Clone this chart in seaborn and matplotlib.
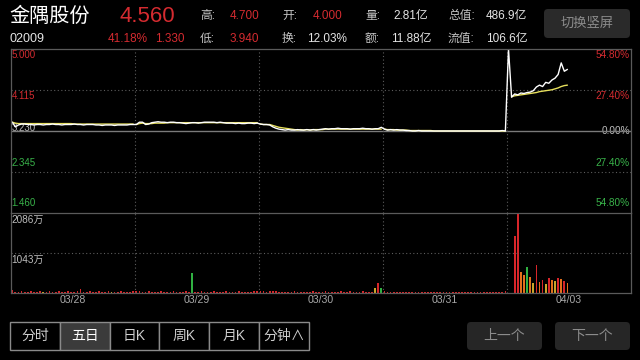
import numpy as np
import pandas as pd
import matplotlib
matplotlib.use("Agg")
import matplotlib.pyplot as plt
from matplotlib.patches import FancyBboxPatch, Rectangle
import seaborn as sns

# ---------------- data ----------------
days = ["03/28", "03/29", "03/30", "03/31", "04/03"]
points_per_day = 40
prev_close = 3.230
price_top = 5.000
price_bottom = 1.460
vol_top = 2086  # 万

left_price_labels = ["5.000", "4.115", "3.230", "2.345", "1.460"]
right_pct_labels = ["54.80%", "27.40%", "0.00%", "27.40%", "54.80%"]
vol_labels = ["2086万", "1043万"]

price_d1 = [3.42, 3.32, 3.36, 3.38, 3.38, 3.37, 3.37, 3.36, 3.37, 3.37,
            3.36, 3.37, 3.37, 3.38, 3.37, 3.37, 3.36, 3.37, 3.37, 3.37,
            3.38, 3.37, 3.37, 3.36, 3.37, 3.37, 3.37, 3.36, 3.36, 3.35,
            3.36, 3.36, 3.36, 3.35, 3.36, 3.36, 3.36, 3.36, 3.37, 3.37]
price_d2 = [3.37, 3.42, 3.42, 3.37, 3.38, 3.41, 3.42, 3.43, 3.42, 3.42,
            3.41, 3.42, 3.42, 3.41, 3.41, 3.40, 3.39, 3.40, 3.41, 3.41,
            3.40, 3.41, 3.42, 3.42, 3.42, 3.42, 3.41, 3.42, 3.41, 3.40,
            3.40, 3.40, 3.39, 3.40, 3.39, 3.39, 3.40, 3.40, 3.39, 3.40]
price_d3 = [3.38, 3.37, 3.37, 3.36, 3.32, 3.29, 3.27, 3.26, 3.25, 3.26,
            3.25, 3.25, 3.26, 3.25, 3.25, 3.26, 3.25, 3.26, 3.25, 3.26,
            3.27, 3.28, 3.27, 3.28, 3.28, 3.29, 3.28, 3.28, 3.28, 3.27,
            3.28, 3.28, 3.28, 3.29, 3.28, 3.28, 3.27, 3.28, 3.28, 3.31]
price_d4 = [3.27, 3.25, 3.26, 3.25, 3.26, 3.25, 3.25, 3.24, 3.24, 3.23,
            3.23, 3.24, 3.23, 3.23, 3.23, 3.23, 3.23, 3.23, 3.23, 3.23,
            3.23, 3.23, 3.23, 3.23, 3.23, 3.23, 3.23, 3.23, 3.23, 3.23,
            3.23, 3.23, 3.23, 3.23, 3.23, 3.23, 3.23, 3.23, 3.24, 3.23]
price_d5 = [5.00, 3.96, 4.03, 4.01, 4.05, 4.04, 4.06, 4.07, 4.10, 4.18,
            4.22, 4.19, 4.28, 4.26, 4.33, 4.37, 4.45, 4.70, 4.52, 4.56]

avg_d1 = [3.42, 3.40, 3.39, 3.39, 3.39, 3.39, 3.39, 3.39, 3.39, 3.39,
          3.39, 3.39, 3.39, 3.39, 3.39, 3.39, 3.39, 3.39, 3.39, 3.39,
          3.38, 3.38, 3.38, 3.38, 3.38, 3.38, 3.38, 3.38, 3.38, 3.38,
          3.38, 3.38, 3.38, 3.38, 3.38, 3.38, 3.38, 3.38, 3.38, 3.38]
avg_d2 = [3.37, 3.39, 3.40, 3.39, 3.39, 3.39, 3.40, 3.40, 3.40, 3.40,
          3.41, 3.41, 3.41, 3.41, 3.41, 3.41, 3.41, 3.41, 3.41, 3.41,
          3.41, 3.41, 3.41, 3.41, 3.41, 3.41, 3.41, 3.41, 3.41, 3.41,
          3.41, 3.41, 3.41, 3.41, 3.41, 3.41, 3.41, 3.41, 3.41, 3.41]
avg_d3 = [3.38, 3.37, 3.37, 3.37, 3.35, 3.33, 3.31, 3.30, 3.29, 3.28,
          3.27, 3.26, 3.25, 3.26, 3.25, 3.26, 3.25, 3.26, 3.26, 3.26,
          3.26, 3.27, 3.27, 3.27, 3.27, 3.27, 3.27, 3.27, 3.27, 3.27,
          3.27, 3.27, 3.27, 3.27, 3.27, 3.27, 3.27, 3.27, 3.27, 3.27]
avg_d4 = [3.27, 3.26, 3.26, 3.26, 3.25, 3.25, 3.25, 3.25, 3.24, 3.24,
          3.24, 3.24, 3.24, 3.24, 3.24, 3.24, 3.23, 3.23, 3.23, 3.23,
          3.23, 3.23, 3.23, 3.23, 3.23, 3.23, 3.23, 3.23, 3.23, 3.23,
          3.23, 3.23, 3.23, 3.23, 3.23, 3.23, 3.23, 3.23, 3.23, 3.23]
avg_d5 = [np.nan, 3.97, 3.99, 4.00, 4.01, 4.02, 4.03, 4.04, 4.05, 4.06,
          4.08, 4.09, 4.10, 4.11, 4.12, 4.14, 4.16, 4.19, 4.21, 4.22]

vol_d1 = [70, 35, 30, 40, 35, 30, 45, 30, 35, 40, 30, 35, 40, 30, 35, 45, 30, 35, 40, 30,
          35, 40, 110, 35, 30, 40, 35, 30, 45, 35, 30, 40, 35, 30, 35, 40, 30, 35, 30, 50]
vol_d2 = [60, 40, 35, 30, 40, 35, 30, 35, 40, 30, 35, 30, 40, 35, 30, 35, 40, 30, 520, 35,
          30, 40, 35, 30, 35, 40, 30, 35, 30, 40, 35, 30, 35, 40, 30, 35, 30, 35, 40, 45]
vol_d3 = [60, 40, 35, 40, 50, 45, 35, 30, 35, 30, 35, 40, 30, 35, 30, 35, 30, 40, 35, 30,
          35, 40, 30, 35, 30, 35, 40, 30, 35, 40, 30, 35, 30, 40, 35, 30, 35, 140, 260, 130]
vol_d4 = [40, 35, 30, 35, 30, 35, 30, 25, 30, 35, 30, 25, 30, 30, 25, 30, 35, 30, 25, 30,
          30, 35, 30, 25, 30, 35, 30, 30, 25, 30, 30, 35, 30, 25, 30, 30, 35, 30, 30, 40]
vol_d5 = [0, 0, 1486, 2060, 540, 460, 690, 420, 260, 730,
          290, 340, 230, 400, 340, 300, 400, 360, 320, 260]

# bar colour codes: r = up (red), g = down (green), o / y = mixed tones
dir_d1 = "rrrrrrrrrr" "yrrrrrrrrr" "rrrrrrrrrr" "rryrrrrrrr"
dir_d2 = "rrrrrrrrrr" "rrrrrrrrgr" "rrrrrrrrrr" "rrrrrrrrrr"
dir_d3 = "rrrrrrrrrr" "rrrrrrrrrr" "rrrrrrrrrr" "rrrrrrryrg"
dir_d4 = "rrrrrrrrrr" "rrrrrrrrrr" "rrrrrrrrrr" "rrrrrrrrrr"
dir_d5 = "rrrroogoyr" "oryroyroro"

# ---------------- build table ----------------
prices = [price_d1, price_d2, price_d3, price_d4, price_d5]
avgs = [avg_d1, avg_d2, avg_d3, avg_d4, avg_d5]
vols = [vol_d1, vol_d2, vol_d3, vol_d4, vol_d5]
dirs = [dir_d1, dir_d2, dir_d3, dir_d4, dir_d5]
rows = []
for d, day in enumerate(days):
    for k in range(len(prices[d])):
        rows.append(dict(day=day, x=d * points_per_day + k + 0.5,
                         price=prices[d][k], avg=avgs[d][k],
                         vol=vols[d][k], dir=dirs[d][k]))
df = pd.DataFrame(rows)

# ---------------- style ----------------
sns.set_theme(style="dark")
plt.rcParams["font.family"] = ["Liberation Sans", "Noto Sans CJK SC", "DejaVu Sans"]
plt.rcParams["figure.facecolor"] = "black"
plt.rcParams["axes.facecolor"] = "black"

RED = "#d52b30"
GREEN = "#39b34a"
GRAY_TXT = "#bdbdbd"
LINE_GRAY = "#5a5a5a"
bar_colors = {"r": "#d8262a", "g": "#30b041", "o": "#e2701c", "y": "#c9a52a"}

W, H = 640, 360
fig = plt.figure(figsize=(6.4, 3.6), dpi=100)

# overlay in pixel coordinates for header / buttons
ov = fig.add_axes([0, 0, 1, 1])
ov.set_xlim(0, W)
ov.set_ylim(H, 0)
ov.axis("off")
ov.set_facecolor("none")

# chart axes
L, R = 10.7, 631.0
PT, PB, VB = 49.0, 213.0, 293.0
axp = fig.add_axes([L / W, 1 - PB / H, (R - L) / W, (PB - PT) / H])
axv = fig.add_axes([L / W, 1 - VB / H, (R - L) / W, (VB - PB) / H])
for a in (axp, axv):
    a.set_facecolor("none")
    a.set_xlim(0, points_per_day * len(days))
    a.grid(False)
    for s in a.spines.values():
        s.set_color(LINE_GRAY)
        s.set_linewidth(0.9)
    a.tick_params(left=False, bottom=False, labelleft=False, labelbottom=False)
axv.spines["top"].set_visible(False)

axp.set_ylim(price_bottom, price_top)
axv.set_ylim(0, vol_top)

dotted = dict(color="#5c5c5c", lw=0.8, linestyle=(0, (1, 2.2)))
qstep = (price_top - prev_close) / 2
for v in (prev_close + qstep, prev_close - qstep):
    axp.axhline(v, **dotted)
axp.axhline(prev_close, color="#7a7a7a", lw=1.0)
axv.axhline(vol_top / 2, **dotted)
for d in range(1, len(days)):
    axp.axvline(d * points_per_day, **dotted)
    axv.axvline(d * points_per_day, **dotted)

# lines: average (yellow) beneath, price (white) on top
sns.lineplot(data=df.dropna(subset=["avg"]), x="x", y="avg", units="day", ax=axp,
             color="#e6df5c", lw=1.0, estimator=None, sort=False, legend=False)
sns.lineplot(data=df, x="x", y="price", ax=axp, color="white", lw=1.0,
             estimator=None, sort=False, legend=False)
axp.set_xlabel("")
axp.set_ylabel("")

# volume bars
axv.bar(df["x"], df["vol"], width=0.55, color=[bar_colors[c] for c in df["dir"]], linewidth=0)

# date ticks
axv.set_xticks([d * points_per_day + points_per_day / 2 for d in range(len(days))])
axv.set_xticklabels(days)
axv.tick_params(labelbottom=True, colors="#a8a8a8", labelsize=7.6, pad=1.5, length=0)
axv.set_xlabel("")
axv.set_ylabel("")

# left / right axis labels (pixel rows)
lab_y = [55, 96, 128, 163, 203]
lab_c = [RED, RED, GRAY_TXT, GREEN, GREEN]
for t, y, c in zip(left_price_labels, lab_y, lab_c):
    ov.text(11.5, y, t, color=c, fontsize=7, va="center", ha="left")
rlab_y = [55, 96, 131.5, 163, 203]
for t, y, c in zip(right_pct_labels, rlab_y, lab_c):
    ov.text(630, y, t, color=c, fontsize=7.2, va="center", ha="right")
ov.text(11, 220, vol_labels[0], color=GRAY_TXT, fontsize=7.2, va="center", ha="left")
ov.text(11, 260, vol_labels[1], color=GRAY_TXT, fontsize=7.2, va="center", ha="left")

# ---------------- header ----------------
LBL = "#c4c4c4"
VAL = "#e4e4e4"
ov.text(9, 16, "金隅股份", color="white", fontsize=14.5, va="center", ha="left")
ov.text(120, 16, "4.560", color=RED, fontsize=16, va="center", ha="left")
row1 = [(200, "高:", LBL), (230, "4.700", RED), (282, "开:", LBL), (313, "4.000", RED),
        (365, "量:", LBL), (393, "2.81亿", VAL), (448, "总值:", LBL), (486, "486.9亿", VAL)]
row2 = [(108, "41.18%", RED), (155, "1.330", RED), (200, "低:", LBL), (230, "3.940", RED),
        (282, "换:", LBL), (307, "12.03%", VAL), (365, "额:", LBL), (391, "11.88亿", VAL),
        (448, "流值:", LBL), (486, "106.6亿", VAL)]
for x, t, c in row1:
    ov.text(x, 16, t, color=c, fontsize=8.5, va="center", ha="left")
ov.text(10, 39, "02009", color=VAL, fontsize=9, va="center", ha="left")
for x, t, c in row2:
    ov.text(x, 39, t, color=c, fontsize=8.5, va="center", ha="left")

def rbutton(x0, y0, x1, y1, text, fs, fc, tc):
    p = FancyBboxPatch((x0, y0), x1 - x0, y1 - y0,
                       boxstyle="round,pad=0,rounding_size=4",
                       fc=fc, ec="none", zorder=1)
    ov.add_patch(p)
    ov.text((x0 + x1) / 2, (y0 + y1) / 2, text, color=tc, fontsize=fs,
            ha="center", va="center", zorder=2)

rbutton(544, 9, 630, 38, "切换竖屏", 9.5, "#2a2a2a", "#8c8c8c")
rbutton(467, 322, 542, 350, "上一个", 10, "#262626", "#8c8c8c")
rbutton(555, 322, 630, 350, "下一个", 10, "#262626", "#8c8c8c")

# segmented control
seg_labels = ["分时", "五日", "日K", "周K", "月K", "分钟∧"]
sx0, sw, sy0, sy1 = 10, 49.8, 322, 350
for i, t in enumerate(seg_labels):
    x0 = sx0 + i * sw
    sel = (t == "五日")
    ov.add_patch(Rectangle((x0, sy0), sw, sy1 - sy0, fc="#3b3b3b" if sel else "black",
                           ec="#8a8a8a", lw=1.0, zorder=1))
    ov.text(x0 + sw / 2, (sy0 + sy1) / 2, t, color="white" if sel else "#cfcfcf",
            fontsize=10, ha="center", va="center", zorder=2)

fig.savefig("out.png", dpi=100, facecolor="black")
